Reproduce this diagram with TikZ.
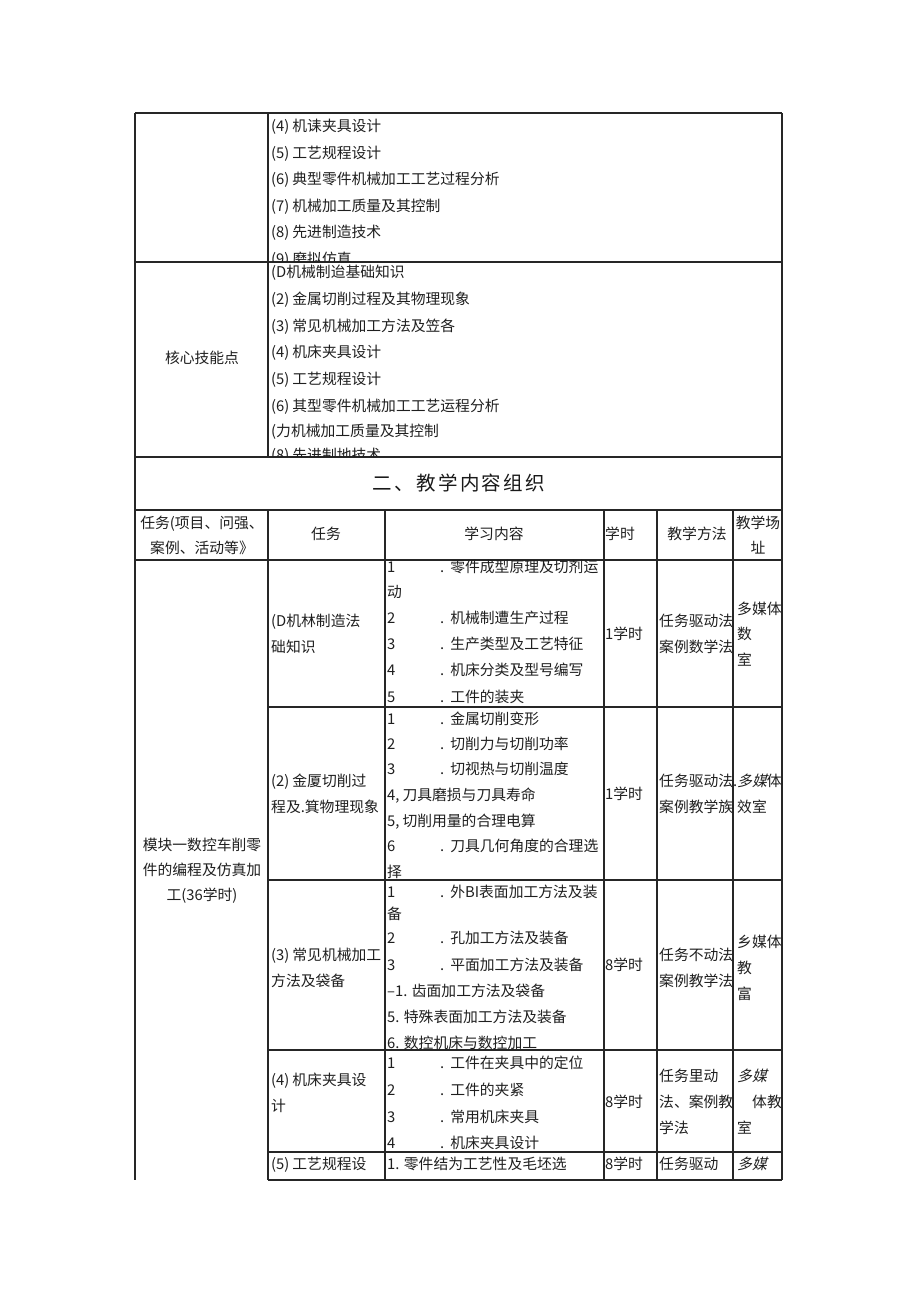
\documentclass[tikz,border=0pt]{standalone}
\usepackage{fontspec}
\setmainfont{Noto Sans CJK SC}
\newfontfamily\slfont[FakeSlant=0.25]{Noto Sans CJK SC}
\newcommand\TXa[4]{\node[tl] (#1) at (#2,{#3+5.5}) {#4};}
\newcommand\TXc[4]{\node[tcn] (#1) at (#2,{#3+5.5}) {#4};}
\newcommand\NumLine[4]{\node[tl] (#1n) at (387,{#2+5.5}) {#3};\node[tl] (#1t) at (440,{#2+5.5}) {.\hspace{6pt}#4};}
\newcommand\pg{\hspace{3pt}}
\begin{document}
\begin{tikzpicture}[x=1pt,y=-1pt,
  grid/.style={line width=1.1pt, draw=black!85},
  tl/.style={anchor=base west, inner sep=0pt, text=black!88, font=\fontsize{14.8}{16}\selectfont},
  tcn/.style={anchor=base, inner sep=0pt, text=black!88, font=\fontsize{14.8}{16}\selectfont},
  ttl/.style={anchor=center, inner sep=0pt, text=black!90, font=\fontsize{19.5}{22}\selectfont\addfontfeatures{LetterSpace=12}},
]
\useasboundingbox[fill=white] (0,0) rectangle (920,1301);

% ---------- grid ----------
\draw[grid] (135,113) -- (782,113);
\draw[grid] (135,262) -- (782,262);
\draw[grid] (135,457) -- (782,457);
\draw[grid] (135,510) -- (782,510);
\draw[grid] (135,560) -- (782,560);
\foreach \yy in {707,880,1050,1152,1180} \draw[grid] (268,\yy) -- (782,\yy);
\draw[grid] (135,113) -- (135,1180);
\draw[grid] (782,113) -- (782,1180);
\draw[grid] (268,113) -- (268,457);
\draw[grid] (268,510) -- (268,1180);
\foreach \xx in {385,604,657,733} \draw[grid] (\xx,510) -- (\xx,1180);

% ---------- top section ----------
\TXa{a4}{271}{126}{(4)\pg 机诔夹具设计}
\TXa{a5}{271}{153}{(5)\pg 工艺规程设计}
\TXa{a6}{271}{179}{(6)\pg 典型零件机械加工工艺过程分析}
\TXa{a7}{271}{206}{(7)\pg 机械加工质量及其控制}
\TXa{a8}{271}{232}{(8)\pg 先进制造技术}
\begin{scope}
\clip (269,240) rectangle (781,261);
\TXa{a9}{271}{259}{(9)\pg 磨拟仿真}
\end{scope}

% ---------- core skills ----------
\TXc{core}{202}{358}{核心技能点}
\TXa{b1}{271}{272}{(D机械制迨基础知识}
\TXa{b2}{271}{299}{(2)\pg 金属切削过程及其物理现象}
\TXa{b3}{271}{326}{(3)\pg 常见机械加工方法及笠各}
\TXa{b4}{271}{352}{(4)\pg 机床夹具设计}
\TXa{b5}{271}{379}{(5)\pg 工艺规程设计}
\TXa{b6}{271}{406}{(6)\pg 其型零件机械加工工艺运程分析}
\TXa{b7}{271}{431}{(力机械加工质量及其控制}
\begin{scope}
\clip (269,440) rectangle (781,456);
\TXa{b8}{271}{455}{(8)\pg 先进制地技术}
\end{scope}

% ---------- title ----------
\node[ttl] (title) at (459,483) {二、教学内容组织};

% ---------- header ----------
\TXc{h1a}{202}{523}{任务(项目、问强、}
\TXc{h1b}{202}{548}{案例、活动等》}
\TXc{h2}{326}{534}{任务}
\TXc{h3}{494}{534}{学习内容}
\TXa{h4}{605}{534}{学时}
\TXc{h5}{697}{534}{教学方法}
\TXc{h6a}{758}{523}{教学场}
\TXc{h6b}{758}{548}{址}

% ---------- module ----------
\TXc{m1}{202}{845}{模块一数控车削零}
\TXc{m2}{202}{870}{件的编程及仿真加}
\TXc{m3}{202}{895}{工(36学时)}

% ---------- row 1 ----------
\TXa{r1a}{271}{621}{(D机林制造法}
\TXa{r1b}{271}{647}{础知识}
\NumLine{r1l1}{567}{1}{零件成型原理及切剂运}
\TXa{r1l1b}{387}{592}{动}
\NumLine{r1l2}{618}{2}{机械制遭生产过程}
\NumLine{r1l3}{644}{3}{生产类型及工艺特征}
\NumLine{r1l4}{670}{4}{机床分类及型号编写}
\NumLine{r1l5}{697}{5}{工件的装夹}
\TXa{r1h}{605}{634}{1学时}
\TXa{r1m1}{659}{621}{任务驱动法}
\TXa{r1m2}{659}{647}{案例数学法}
\TXa{r1p1}{737}{609}{多媒体}
\TXa{r1p2}{737}{634}{数}
\TXa{r1p3}{737}{660}{室}

% ---------- row 2 ----------
\TXa{r2a}{271}{781}{(2)\pg 金厦切削过}
\TXa{r2b}{271}{807}{程及.箕物理现象}
\NumLine{r2l1}{719}{1}{金属切削变形}
\NumLine{r2l2}{744}{2}{切削力与切削功率}
\NumLine{r2l3}{769}{3}{切视热与切削温度}
\TXa{r2l4}{387}{795}{4,\pg 刀具磨损与刀具寿命}
\TXa{r2l5}{387}{821}{5,\pg 切削用量的合理电算}
\NumLine{r2l6}{846}{6}{刀具几何角度的合理选}
\TXa{r2l6b}{387}{872}{择}
\TXa{r2h}{605}{794}{1学时}
\TXa{r2m1}{659}{781}{任务驱动法.}
\TXa{r2m2}{659}{807}{案例教学族}
\TXa{r2p1}{737}{781}{{\slfont 多媒}体}
\TXa{r2p2}{737}{807}{效室}

% ---------- row 3 ----------
\TXa{r3a}{271}{955}{(3)\pg 常见机械加工}
\TXa{r3b}{271}{981}{方法及袋备}
\NumLine{r3l1}{892}{1}{外BI表面加工方法及装}
\TXa{r3l1b}{387}{914}{备}
\NumLine{r3l2}{938}{2}{孔加工方法及装备}
\NumLine{r3l3}{965}{3}{平面加工方法及装备}
\TXa{r3l4}{387}{991}{–1. 齿面加工方法及袋备}
\TXa{r3l5}{387}{1017}{5. 特殊表面加工方法及装备}
\TXa{r3l6}{387}{1043}{6. 数控机床与数控加工}
\TXa{r3h}{605}{965}{8学时}
\TXa{r3m1}{659}{955}{任务不动法}
\TXa{r3m2}{659}{981}{案例教学法}
\TXa{r3p1}{737}{942}{乡媒体}
\TXa{r3p2}{737}{968}{教}
\TXa{r3p3}{737}{994}{富}

% ---------- row 4 ----------
\TXa{r4a}{271}{1080}{(4)\pg 机床夹具设}
\TXa{r4b}{271}{1106}{计}
\NumLine{r4l1}{1063}{1}{工件在夹具中的定位}
\NumLine{r4l2}{1090}{2}{工件的夹紧}
\NumLine{r4l3}{1117}{3}{常用机床夹具}
\NumLine{r4l4}{1143}{4}{机床夹具设计}
\TXa{r4h}{605}{1102}{8学时}
\TXa{r4m1}{659}{1076}{任务里动}
\TXa{r4m2}{659}{1102}{法、案例教}
\TXa{r4m3}{659}{1128}{学法}
\TXa{r4p1}{737}{1076}{{\slfont 多媒}}
\TXa{r4p2}{752}{1102}{体教}
\TXa{r4p3}{737}{1128}{室}

% ---------- row 5 ----------
\TXa{r5a}{271}{1164}{(5)\pg 工艺规程设}
\TXa{r5l}{387}{1164}{1. 零件结为工艺性及毛坯选}
\TXa{r5h}{605}{1164}{8学时}
\TXa{r5m}{659}{1164}{任务驱动}
\TXa{r5p}{737}{1164}{{\slfont 多媒}}
\end{tikzpicture}
\end{document}
